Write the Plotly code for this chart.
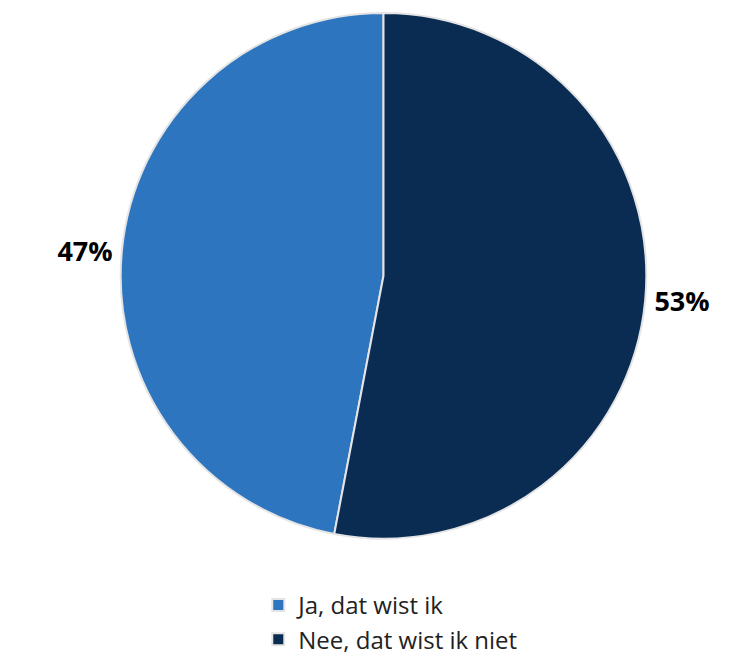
import plotly.graph_objects as go

labels = ["Ja, dat wist ik", "Nee, dat wist ik niet"]
values = [47, 53]
colors = ["#2e75bf", "#0a2b52"]

fig = go.Figure()
fig.add_trace(go.Pie(
    labels=labels,
    values=values,
    sort=False,
    direction="clockwise",
    rotation=360 * values[1] / sum(values),
    marker=dict(colors=colors, line=dict(color="#e4e4e4", width=2)),
    texttemplate="<b>%{percent:.0%}</b>",
    textposition="outside",
    textfont=dict(size=27, color="black", family="Open Sans"),
    domain=dict(x=[0.0, 1.0], y=[1 - 550 / 654, 1.0]),
    hole=0,
))
fig.update_layout(
    width=751,
    height=654,
    paper_bgcolor="white",
    plot_bgcolor="white",
    font=dict(family="Open Sans", size=24, color="#222222"),
    margin=dict(l=0, r=0, t=0, b=0),
    legend=dict(
        orientation="h",
        xanchor="center",
        x=0.58,
        yanchor="middle",
        y=0.025,
        traceorder="normal",
        entrywidth=300,
        font=dict(size=24, color="#222222"),
    ),
)
fig.write_html("out.html")
